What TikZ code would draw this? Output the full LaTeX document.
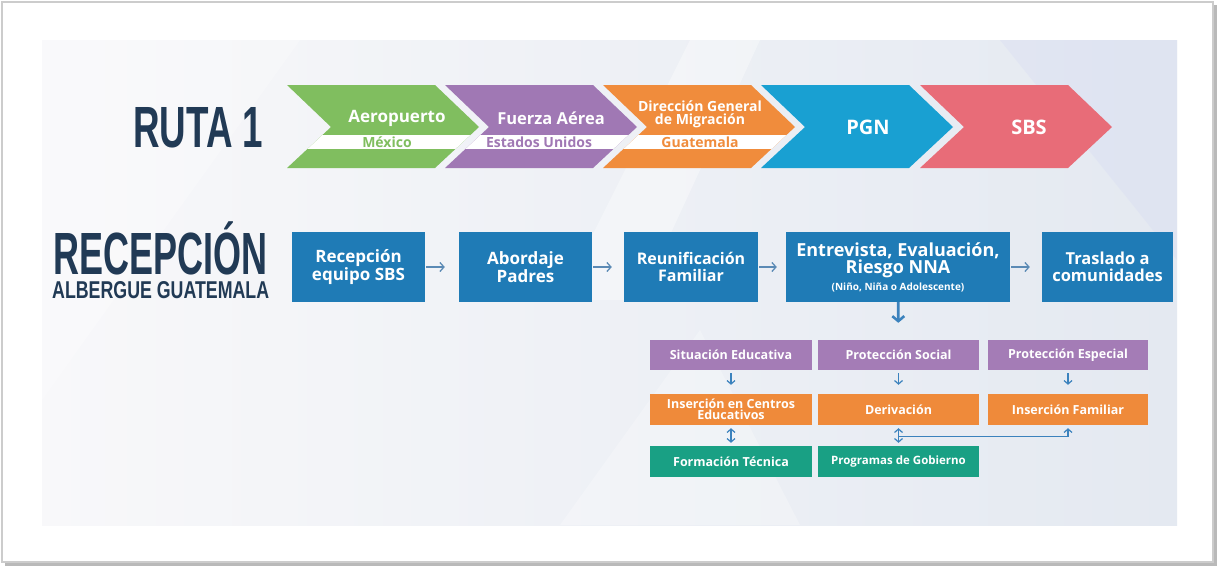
\documentclass[tikz,border=0pt]{standalone}
\usepackage{fontspec}
\setmainfont{Open Sans}
\newfontfamily\titlefont{Liberation Sans}
\usetikzlibrary{arrows.meta,calc}
\definecolor{navy}{HTML}{213A55}
\definecolor{cgreen}{HTML}{80BE5F}
\definecolor{cpurple}{HTML}{A078B4}
\definecolor{corange}{HTML}{F08C3C}
\definecolor{cblue}{HTML}{19A0D2}
\definecolor{cpink}{HTML}{E86C78}
\definecolor{boxblue}{HTML}{1F7BB6}
\definecolor{gpurple}{HTML}{A47CB6}
\definecolor{gorange}{HTML}{EF8A3A}
\definecolor{gteal}{HTML}{19A084}
\definecolor{arrowblue}{HTML}{3B82BD}
\definecolor{harrowc}{HTML}{5B8AB5}
\definecolor{bgright}{HTML}{E4E9F1}
\definecolor{bgleft}{HTML}{F8F8FA}
\newcommand\Chevron[2]{%
  \fill[#2] (#1,85) -- ++(148,0) -- ++(44,42) -- ++(-44,41) -- ++(-148,0) -- ++(44,-41) -- cycle;}
\newcommand\ChevronBand[1]{%
  \begin{scope}
    \clip (#1,85) -- ++(148,0) -- ++(44,42) -- ++(-44,41) -- ++(-148,0) -- ++(44,-41) -- cycle;
    \fill[white] (#1,135) rectangle ++(200,14);
  \end{scope}}
\tikzset{
  ctitle/.style={text=white, font=\fontsize{17}{17}\selectfont\bfseries, inner sep=0pt, align=center},
  csub/.style={font=\fontsize{14}{14}\selectfont\bfseries, inner sep=0pt},
  bbox/.style={fill=boxblue, text=white, minimum height=70pt, inner sep=0pt, align=center,
    font=\fontsize{17}{16.5}\selectfont\bfseries},
  gbox/.style={text=white, inner sep=0pt, align=center, font=\fontsize{12.5}{11}\selectfont\bfseries},
  harr/.style={draw=harrowc, line width=1.3pt, shorten <=1pt, -{Straight Barb[length=4pt,width=9pt]}},
  varr/.style={draw=arrowblue, line width=1.2pt},
  vhead/.style={-{Straight Barb[length=3.5pt,width=8pt]}},
}
\begin{document}
\begin{tikzpicture}[x=1pt,y=-1pt]
\useasboundingbox (0,0) rectangle (1217,566);
\fill[white] (0,0) rectangle (1217,566);
% frame
\draw[gray!40, line width=1.2pt] (2,2) rectangle (1213,562);
\draw[gray!55, line width=2.2pt] (1215.5,5) -- (1215.5,564.5) -- (5,564.5);
% background panel
\shade[left color=bgleft, right color=bgright] (42,40) rectangle (1177,525);
\fill[white, opacity=0.35] (690,40) -- (760,40) -- (640,300) -- (560,300) -- cycle;
\fill[white, opacity=0.25] (42,40) -- (300,40) -- (42,400) -- cycle;
\fill[bgright!80!blue!30!bgright, opacity=0.35] (1000,40) -- (1177,40) -- (1177,260) -- cycle;
\fill[white, opacity=0.25] (560,525) -- (700,330) -- (800,525) -- cycle;
% titles
\node[anchor=north west, inner sep=0pt, text=navy] (ruta) at (133,107)
  {\resizebox{130pt}{40pt}{\titlefont\bfseries RUTA 1}};
\node[anchor=north west, inner sep=0pt, text=navy] (recep) at (53,233)
  {\resizebox{214pt}{41pt}{\titlefont\bfseries\vphantom{E}\smash{RECEPCIÓN}}};
\node[anchor=north west, inner sep=0pt, text=navy] (alb) at (52,281)
  {\resizebox{217pt}{17pt}{\titlefont\bfseries ALBERGUE GUATEMALA}};
% chevrons
\Chevron{287}{cgreen}\ChevronBand{287}
\Chevron{445}{cpurple}\ChevronBand{445}
\Chevron{603}{corange}\ChevronBand{603}
\Chevron{761}{cblue}
\Chevron{920}{cpink}
\node[ctitle] (aero) at (397,118) {Aeropuerto};
\node[csub, text=cgreen] (mex) at (387,142) {México};
\node[ctitle, font=\fontsize{16.5}{16.5}\selectfont\bfseries] (fuerza) at (551,118) {Fuerza Aérea};
\node[csub, text=cpurple] (eeuu) at (539,142) {Estados Unidos};
\node[ctitle, font=\fontsize{14}{13}\selectfont\bfseries] (dgm) at (700,114) {Dirección General\\de Migración};
\node[csub, text=corange] (guate) at (700,142) {Guatemala};
\node[ctitle, font=\fontsize{20}{20}\selectfont\bfseries] (pgn) at (868,127) {PGN};
\node[ctitle, font=\fontsize{20}{20}\selectfont\bfseries] (sbs) at (1029,127) {SBS};
% blue boxes
\node[bbox, minimum width=133pt] (b1) at (358.5,267) {Recepción\\equipo SBS};
\node[bbox, minimum width=133pt] (b2) at (525.5,267) {Abordaje\\Padres};
\node[bbox, minimum width=134pt, font=\fontsize{16}{16.5}\selectfont\bfseries] (b3) at (691,267) {Reunificación\\Familiar};
\node[bbox, minimum width=224pt, font=\fontsize{18}{15}\selectfont\bfseries] (b4) at (898,267)
  {Entrevista, Evaluación,\\Riesgo NNA\\[2pt]{\fontsize{10}{10}\selectfont (Niño, Niña o Adolescente)}};
\node[bbox, minimum width=131pt, font=\fontsize{16.5}{16.5}\selectfont\bfseries] (b5) at (1107.5,267) {Traslado a\\comunidades};
\draw[harr, shorten >=14pt] (b1) -- (b2);
\draw[harr, shorten >=12pt] (b2) -- (b3);
\draw[harr, shorten >=9pt] (b3) -- (b4);
\draw[harr, shorten >=12pt] (b4) -- (b5);
% grid
\node[gbox, fill=gpurple, minimum width=162pt, minimum height=30pt] (sit) at (731,355) {Situación Educativa};
\node[gbox, fill=gpurple, minimum width=161pt, minimum height=30pt] (psoc) at (898.5,355) {Protección Social};
\node[gbox, fill=gpurple, minimum width=160pt, minimum height=30pt] (pesp) at (1068,355) {Protección Especial};
\node[gbox, fill=gorange, minimum width=162pt, minimum height=31pt] (ins) at (731,409.5) {Inserción en Centros\\Educativos};
\node[gbox, fill=gorange, minimum width=161pt, minimum height=31pt] (der) at (898.5,409.5) {Derivación};
\node[gbox, fill=gorange, minimum width=160pt, minimum height=31pt] (fam) at (1068,409.5) {Inserción Familiar};
\node[gbox, fill=gteal, minimum width=162pt, minimum height=31pt] (form) at (731,461.5) {Formación Técnica};
\node[gbox, fill=gteal, minimum width=161pt, minimum height=31pt, font=\fontsize{11.5}{10.5}\selectfont\bfseries] (prog) at (898.5,461.5) {Programas de Gobierno};
% down arrow
\draw[draw=arrowblue, line width=2.6pt, -{Straight Barb[length=5pt,width=12pt]}, shorten >=17pt] (b4) -- (psoc);
\draw[varr, vhead, shorten <=3pt, shorten >=9pt] (sit) -- (ins);
\draw[varr, vhead, shorten <=3pt, shorten >=9pt] (psoc) -- (der);
\draw[varr, vhead, shorten <=3pt, shorten >=9pt] (pesp) -- (fam);
\draw[varr, {Straight Barb[length=3.5pt,width=8pt]}-{Straight Barb[length=3.5pt,width=8pt]}, shorten <=3pt, shorten >=3pt] (ins) -- (form);
\draw[varr, {Straight Barb[length=3.5pt,width=8pt]}-{Straight Barb[length=3.5pt,width=8pt]}, shorten <=3pt, shorten >=3pt] (der) -- (prog);
\coordinate (mid) at ($(der.south)!0.55!(prog.north)$);
\draw[varr, vhead, shorten >=3pt] (mid) -| (fam.south);
\end{tikzpicture}
\end{document}
